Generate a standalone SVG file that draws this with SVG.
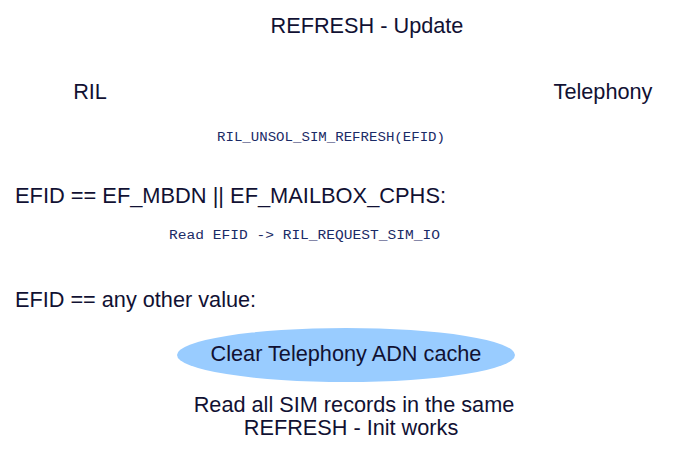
<svg xmlns="http://www.w3.org/2000/svg" width="694" height="469" viewBox="0 0 694 469">
<style>
.t{font-family:"Liberation Sans",Arial,sans-serif;font-size:21.7px;fill:#111133}
.m{font-family:"Liberation Mono","Courier New",monospace;font-size:12.5px;fill:#1a2a66}
.c{text-anchor:middle}
</style>
<rect width="694" height="469" fill="#ffffff"/>
<g id="title"><text class="t c" x="367" y="33">REFRESH - Update</text></g>
<g id="ril"><text class="t c" x="90" y="99">RIL</text></g>
<g id="telephony"><text class="t c" x="603" y="99">Telephony</text></g>
<g id="connectors">
<text class="m" x="217" y="141" textLength="228" lengthAdjust="spacingAndGlyphs">RIL_UNSOL_SIM_REFRESH(EFID)</text>
<text class="m" x="169" y="239" textLength="271" lengthAdjust="spacingAndGlyphs">Read EFID -&gt; RIL_REQUEST_SIM_IO</text>
</g>
<g id="cond1"><text class="t" x="15" y="203" textLength="431" lengthAdjust="spacingAndGlyphs">EFID == EF_MBDN || EF_MAILBOX_CPHS:</text></g>
<g id="cond2"><text class="t" x="15" y="307">EFID == any other value:</text></g>
<g id="clear">
<ellipse cx="346" cy="355" rx="169" ry="27" fill="#99ccff"/>
<text class="t c" x="346" y="361">Clear Telephony ADN cache</text>
</g>
<g id="note">
<text class="t c" x="354" y="412">Read all SIM records in the same</text>
<text class="t c" x="351" y="435">REFRESH - Init works</text>
</g>
</svg>
